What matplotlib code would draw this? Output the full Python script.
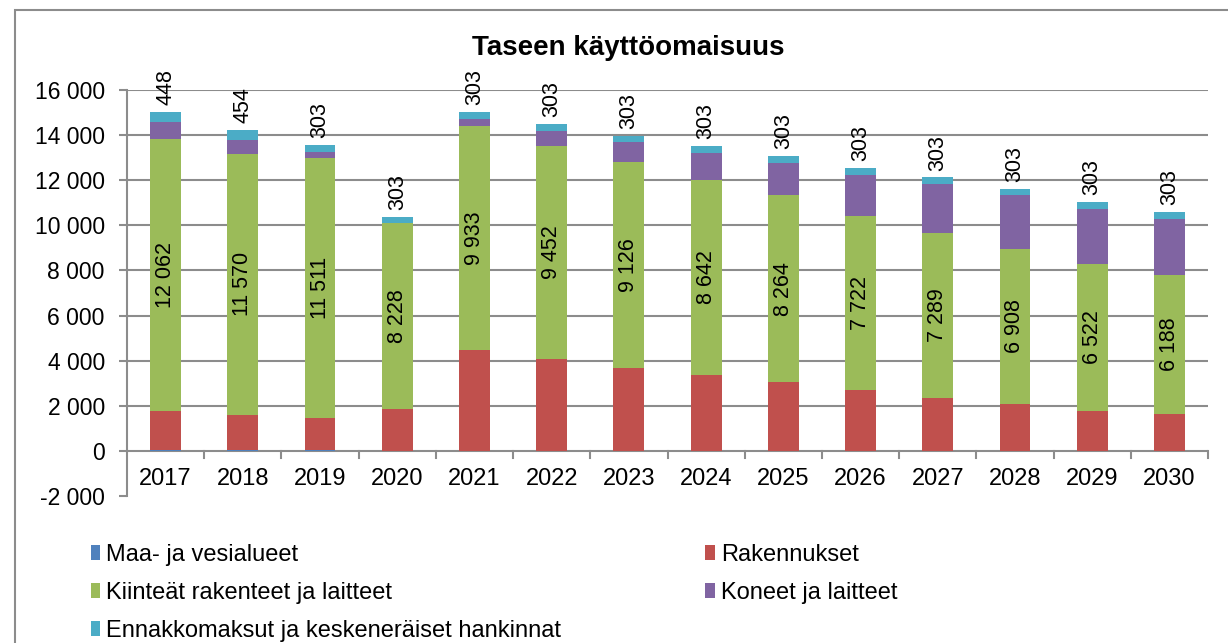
import numpy as np
import matplotlib
matplotlib.use('Agg')
import matplotlib.pyplot as plt
from matplotlib.ticker import FuncFormatter
from matplotlib.patches import Rectangle

plt.rcParams['font.family'] = ['Liberation Sans', 'DejaVu Sans']

############################# Data #############################

years = ['2017', '2018', '2019', '2020', '2021', '2022', '2023',
         '2024', '2025', '2026', '2027', '2028', '2029', '2030']
maa = [60, 60, 60, 0, 0, 0, 0, 0, 0, 0, 0, 0, 0, 0]
rakennukset = [1720, 1550, 1420, 1860, 4460, 4070, 3690, 3370, 3060, 2690, 2360, 2060, 1780, 1620]
kiinteat = [12062, 11570, 11511, 8228, 9933, 9452, 9126, 8642, 8264, 7722, 7289, 6908, 6522, 6188]
koneet = [720, 600, 280, 0, 340, 660, 860, 1200, 1460, 1840, 2170, 2360, 2440, 2490]
ennakko = [448, 454, 303, 303, 303, 303, 303, 303, 303, 303, 303, 303, 303, 303]

labels = ['Maa- ja vesialueet', 'Rakennukset', 'Kiinteät rakenteet ja laitteet',
          'Koneet ja laitteet', 'Ennakkomaksut ja keskeneräiset hankinnat']
colors = ['#4F81BD', '#C0504D', '#9BBB59', '#8064A2', '#4BACC6']


def fmt_num(v, pos=None):
    s = '{:,.0f}'.format(abs(v)).replace(',', ' ')
    return ('-' if v < 0 else '') + s


def main():
    fig = plt.figure(figsize=(12.28, 6.43), dpi=100)
    ax = fig.add_axes([127 / 1228, 1 - 496 / 643, (1208 - 127) / 1228, (496 - 90) / 643])

    # outer chart frame
    fig.patches.append(Rectangle((15 / 1228, -0.1), 1.2, 1 - 10 / 643 + 0.1,
                                 transform=fig.transFigure, fill=False,
                                 edgecolor='#8c8c8c', lw=1.5, zorder=0))

    x = np.arange(len(years))
    w = 0.40
    series = [maa, rakennukset, kiinteat, koneet, ennakko]
    bottom = np.zeros(len(years))
    bars = []
    for vals, lab, col in zip(series, labels, colors):
        vals = np.array(vals, dtype=float)
        b = ax.bar(x, vals, w, bottom=bottom, color=col, label=lab, zorder=3)
        bars.append(b)
        if lab.startswith('Kiinte'):
            for xi, v, b0 in zip(x, vals, bottom):
                ax.text(xi, b0 + v / 2, fmt_num(v), rotation=90, ha='center',
                        va='center', fontsize=15.5, zorder=4)
        if lab.startswith('Ennakko'):
            for xi, v, b0 in zip(x, vals, bottom):
                ax.annotate(fmt_num(v), (xi, b0 + v), xytext=(0, 5),
                            textcoords='offset points', rotation=90,
                            ha='center', va='bottom', fontsize=15.5)
        bottom = bottom + vals

    ax.set_xlim(-0.5, len(years) - 0.5)
    ax.set_ylim(-2000, 16000)
    ax.set_yticks(np.arange(-2000, 16001, 2000))
    ax.yaxis.set_major_formatter(FuncFormatter(fmt_num))
    for yv in range(0, 16001, 2000):
        ax.axhline(yv, color='#8c8c8c', lw=1.5, zorder=1)

    for s in ['top', 'right', 'bottom']:
        ax.spines[s].set_visible(False)
    ax.spines['left'].set_color('#8c8c8c')
    ax.spines['left'].set_linewidth(1.5)
    ax.tick_params(axis='y', length=6, width=1.5, color='#8c8c8c', labelsize=16.5, pad=10)
    ax.set_xticks([])

    # category axis at y=0
    for b in np.arange(0.5, len(years) - 0.5, 1.0):
        ax.plot([b, b], [0, -300], color='#8c8c8c', lw=1.5, zorder=2, clip_on=False)
    ax.plot([len(years) - 0.5] * 2, [0, -300], color='#8c8c8c', lw=1.5, zorder=2, clip_on=False)
    for xi, yr in zip(x, years):
        ax.text(xi, -1230, yr, ha='center', va='center', fontsize=17)

    fig.text(628 / 1228, 1 - 48 / 643, 'Taseen käyttöomaisuus', ha='center',
             va='center', fontsize=20, fontweight='bold')

    order = [0, 2, 4, 1, 3]
    fig.legend([bars[i] for i in order], [labels[i] for i in order], ncol=2,
               loc='upper left', bbox_to_anchor=(91 / 1228, 1 - 544 / 643),
               frameon=False, fontsize=17, handlelength=0.4, handleheight=0.6,
               handletextpad=0.25, labelspacing=0.68, columnspacing=6.1,
               borderaxespad=0, borderpad=0)

    fig.savefig('out.png', dpi=100)
    plt.close(fig)


if __name__ == "__main__":
    main()
